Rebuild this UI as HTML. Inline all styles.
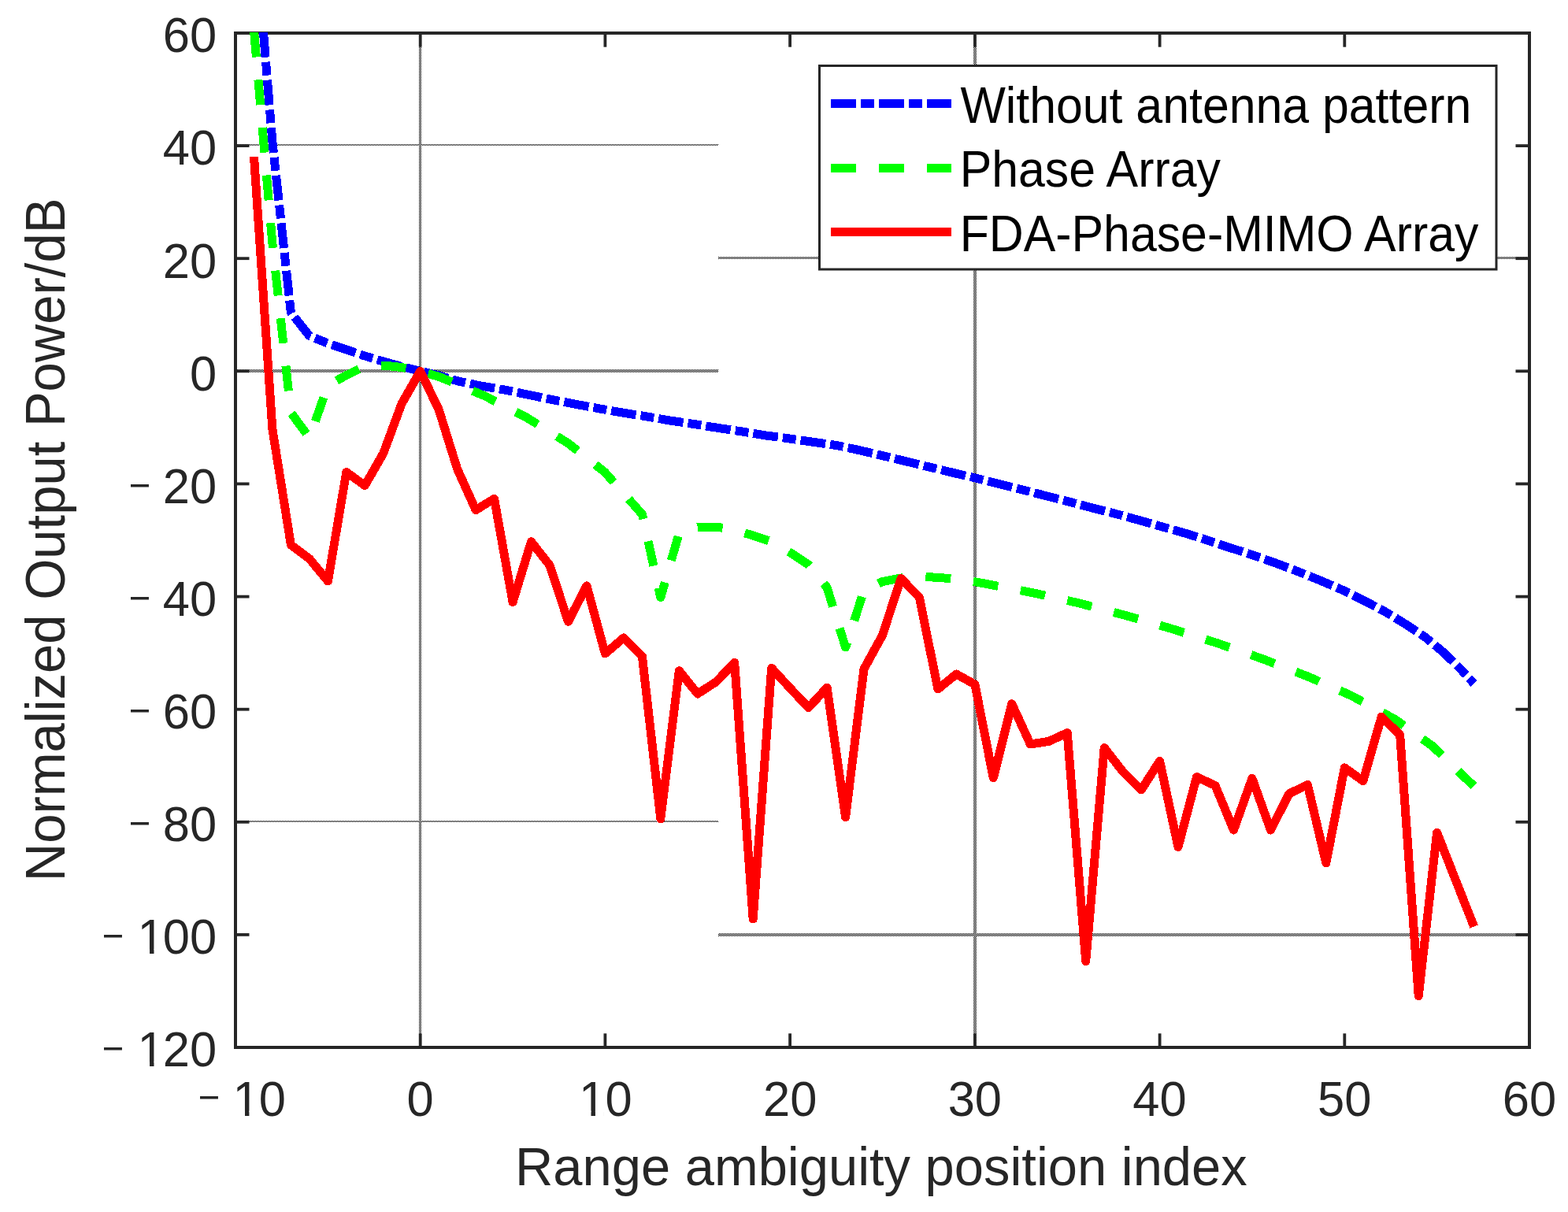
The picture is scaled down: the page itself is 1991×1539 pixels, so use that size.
<!DOCTYPE html>
<html><head><meta charset="utf-8"><title>Normalized Output Power vs Range ambiguity position index</title>
<style>
html,body{margin:0;padding:0;background:#fff;}
body{width:1991px;height:1539px;overflow:hidden;}
svg{display:block;}
text{font-family:"Liberation Sans",sans-serif;}
</style></head><body>
<svg width="1991" height="1539" viewBox="0 0 1991 1539">
<defs>
<pattern id="ck" x="0" y="0" width="2" height="2" patternUnits="userSpaceOnUse">
<rect x="0" y="0" width="1" height="1" fill="#000"/><rect x="1" y="1" width="1" height="1" fill="#000"/>
</pattern>
<clipPath id="one20" clipPathUnits="userSpaceOnUse"><rect x="-80" y="-90" width="400" height="84.21"/><rect x="17.47" y="-90" width="5.44" height="100"/><rect x="33.80" y="-90" width="300" height="100"/></clipPath><clipPath id="one10" clipPathUnits="userSpaceOnUse"><rect x="-80" y="-90" width="400" height="84.21"/><rect x="16.47" y="-90" width="5.44" height="100"/><rect x="32.80" y="-90" width="300" height="100"/></clipPath><clipPath id="one8" clipPathUnits="userSpaceOnUse"><rect x="-80" y="-90" width="400" height="84.21"/><rect x="16.27" y="-90" width="5.44" height="100"/><rect x="32.60" y="-90" width="300" height="100"/></clipPath>
<clipPath id="plot"><rect x="299" y="41" width="1643" height="1289"/></clipPath>
</defs>
<rect x="0" y="0" width="1991" height="1539" fill="#fff"/>

<g fill="url(#ck)">
<rect x="301" y="183" width="611" height="2"/>
<rect x="912" y="326" width="1028" height="3"/>
<rect x="301" y="469" width="611" height="4"/>
<rect x="301" y="1042" width="611" height="2"/>
<rect x="912" y="1185" width="1028" height="4"/>
<rect x="532" y="44" width="3" height="1284"/>
<rect x="1236" y="44" width="4" height="1284"/>
</g>
<rect x="299" y="42" width="1643" height="1288" fill="none" stroke="#262626" stroke-width="4"/>
<g clip-path="url(#plot)" fill="none" stroke-width="11" stroke-linejoin="round" stroke-linecap="butt" shape-rendering="crispEdges">
<polyline stroke="#0000ff" stroke-dasharray="31.92 5.985 16.96 5.985" stroke-dashoffset="36.1" points="322.5,-105.0 345.9,180.0 369.4,397.0 392.9,426.5 416.4,436.0 439.8,444.0 463.3,452.0 486.8,459.0 510.2,465.5 533.7,471.3 556.0,476.5 581.5,483.9 611.6,490.2 641.8,495.2 671.9,501.5 702.0,507.7 730.9,513.3 761.5,519.0 791.2,524.1 821.8,529.1 851.4,534.1 881.6,538.6 911.7,543.4 941.9,547.9 972.0,552.9 1002.1,556.9 1032.6,561.3 1062.7,565.6 1092.1,571.9 1121.7,578.9 1151.1,586.0 1180.7,593.2 1210.1,600.3 1239.7,607.3 1269.4,614.8 1298.8,622.1 1328.4,629.7 1357.8,637.2 1387.1,645.0 1416.8,652.5 1446.2,660.5 1475.3,668.8 1505.1,677.1 1533.8,686.2 1562.7,695.8 1591.8,705.2 1620.6,715.3 1648.7,725.9 1677.2,737.4 1705.0,749.4 1732.5,762.9 1759.2,777.0 1784.9,792.6 1810.4,809.7 1833.9,829.2 1855.2,850.3 1871.6,868.0"/>
<polyline stroke="#00ff00" stroke-dasharray="31.92 28.93" stroke-dashoffset="60.2" points="322.6,40.0 345.9,309.0 369.4,524.0 392.9,556.0 416.4,489.5 439.8,476.5 463.3,465.0 486.8,464.0 510.2,466.5 533.7,471.3 558.9,478.9 615.4,502.7 668.9,530.3 720.9,562.5 767.9,599.5 798.7,634.1 815.4,653.0 838.8,758.5 862.3,677.0 885.8,669.0 909.3,669.0 932.7,673.0 956.2,680.0 979.7,688.0 1003.1,701.5 1026.6,717.0 1050.1,746.0 1073.6,822.0 1097.0,750.0 1120.5,738.5 1144.0,734.0 1167.4,732.5 1190.9,733.2 1214.4,735.5 1237.9,738.7 1311.5,752.7 1370.6,766.0 1429.7,781.6 1488.7,798.7 1545.8,816.7 1603.5,836.8 1660.3,858.9 1715.2,883.0 1771.2,913.3 1819.2,947.6 1862.0,989.2 1871.6,998.0"/>
<polyline stroke="#ff0000" points="322.5,199.0 345.9,545.0 369.4,692.0 392.9,709.5 416.4,738.0 439.8,599.5 463.3,616.5 486.8,575.5 510.2,512.2 533.7,471.3 557.2,520.2 580.7,595.6 604.1,647.6 627.6,633.3 651.1,764.6 674.5,687.9 698.0,717.8 721.5,789.3 745.0,743.8 768.4,830.0 791.9,809.9 815.4,833.3 838.8,1039.7 862.3,851.8 885.8,881.0 909.3,865.8 932.7,841.4 956.2,1167.0 979.7,848.3 1003.1,873.7 1026.6,898.6 1050.1,873.2 1073.6,1037.7 1097.0,849.5 1120.5,806.6 1144.0,734.6 1167.4,758.5 1190.9,875.0 1214.4,856.0 1237.9,869.1 1261.3,987.8 1284.8,893.7 1308.3,945.0 1331.7,941.4 1355.2,930.5 1378.7,1220.5 1402.2,949.6 1425.6,979.6 1449.1,1003.0 1472.6,966.4 1496.0,1075.5 1519.5,986.6 1543.0,997.5 1566.5,1054.0 1589.9,988.3 1613.4,1054.0 1636.9,1007.9 1660.3,996.4 1683.8,1096.0 1707.3,974.9 1730.8,991.6 1754.2,910.2 1777.7,933.3 1801.2,1264.6 1824.6,1057.2 1848.1,1117.0 1871.6,1176.5"/>
</g>
<g fill="#262626"><rect x="297" y="40.1" width="19.5" height="3.8"/><rect x="1924.5" y="40.1" width="19.5" height="3.8"/><rect x="297" y="183.2" width="19.5" height="3.8"/><rect x="1924.5" y="183.2" width="19.5" height="3.8"/><rect x="297" y="326.3" width="19.5" height="3.8"/><rect x="1924.5" y="326.3" width="19.5" height="3.8"/><rect x="297" y="469.4" width="19.5" height="3.8"/><rect x="1924.5" y="469.4" width="19.5" height="3.8"/><rect x="297" y="612.5" width="19.5" height="3.8"/><rect x="1924.5" y="612.5" width="19.5" height="3.8"/><rect x="297" y="755.7" width="19.5" height="3.8"/><rect x="1924.5" y="755.7" width="19.5" height="3.8"/><rect x="297" y="898.8" width="19.5" height="3.8"/><rect x="1924.5" y="898.8" width="19.5" height="3.8"/><rect x="297" y="1041.9" width="19.5" height="3.8"/><rect x="1924.5" y="1041.9" width="19.5" height="3.8"/><rect x="297" y="1185.0" width="19.5" height="3.8"/><rect x="1924.5" y="1185.0" width="19.5" height="3.8"/><rect x="297" y="1328.1" width="19.5" height="3.8"/><rect x="1924.5" y="1328.1" width="19.5" height="3.8"/><rect x="297.1" y="40" width="3.8" height="19.7"/><rect x="297.1" y="1312.3" width="3.8" height="19.7"/><rect x="531.8" y="40" width="3.8" height="19.7"/><rect x="531.8" y="1312.3" width="3.8" height="19.7"/><rect x="766.5" y="40" width="3.8" height="19.7"/><rect x="766.5" y="1312.3" width="3.8" height="19.7"/><rect x="1001.2" y="40" width="3.8" height="19.7"/><rect x="1001.2" y="1312.3" width="3.8" height="19.7"/><rect x="1236.0" y="40" width="3.8" height="19.7"/><rect x="1236.0" y="1312.3" width="3.8" height="19.7"/><rect x="1470.7" y="40" width="3.8" height="19.7"/><rect x="1470.7" y="1312.3" width="3.8" height="19.7"/><rect x="1705.4" y="40" width="3.8" height="19.7"/><rect x="1705.4" y="1312.3" width="3.8" height="19.7"/><rect x="1940.1" y="40" width="3.8" height="19.7"/><rect x="1940.1" y="1312.3" width="3.8" height="19.7"/></g>
<g fill="#262626"><text transform="translate(206.79,66.30) scale(1,1.035)" font-size="61.5"><tspan x="0" y="0">60</tspan></text><text transform="translate(206.79,209.41) scale(1,1.035)" font-size="61.5"><tspan x="0" y="0">40</tspan></text><text transform="translate(206.79,352.52) scale(1,1.035)" font-size="61.5"><tspan x="0" y="0">20</tspan></text><text transform="translate(241.00,495.63) scale(1,1.035)" font-size="61.5"><tspan x="0" y="0">0</tspan></text><text transform="translate(206.79,638.74) scale(1,1.035)" font-size="61.5"><tspan x="-43.13" y="-5.61" font-size="47.34">&#8722;</tspan><tspan x="0" y="0">20</tspan></text><text transform="translate(206.79,781.86) scale(1,1.035)" font-size="61.5"><tspan x="-43.13" y="-5.61" font-size="47.34">&#8722;</tspan><tspan x="0" y="0">40</tspan></text><text transform="translate(206.79,924.97) scale(1,1.035)" font-size="61.5"><tspan x="-43.13" y="-5.61" font-size="47.34">&#8722;</tspan><tspan x="0" y="0">60</tspan></text><text transform="translate(206.79,1068.08) scale(1,1.035)" font-size="61.5"><tspan x="-43.13" y="-5.61" font-size="47.34">&#8722;</tspan><tspan x="0" y="0">80</tspan></text><text clip-path="url(#one20)" transform="translate(172.59,1211.19) scale(1,1.035)" font-size="61.5"><tspan x="-42.92" y="-5.61" font-size="47.34">&#8722;</tspan><tspan x="2.00" y="0">1</tspan><tspan x="34.20" y="0">00</tspan></text><text clip-path="url(#one20)" transform="translate(172.59,1354.30) scale(1,1.035)" font-size="61.5"><tspan x="-42.92" y="-5.61" font-size="47.34">&#8722;</tspan><tspan x="2.00" y="0">1</tspan><tspan x="34.20" y="0">20</tspan></text><text clip-path="url(#one10)" transform="translate(294.50,1416.50) scale(1,1.035)" font-size="61.5"><tspan x="-42.83" y="-6.00" font-size="47.34">&#8722;</tspan><tspan x="1.00" y="0">1</tspan><tspan x="34.20" y="0">0</tspan></text><text transform="translate(516.61,1416.50) scale(1,1.035)" font-size="61.5"><tspan x="0" y="0">0</tspan></text><text clip-path="url(#one8)" transform="translate(734.23,1416.50) scale(1,1.035)" font-size="61.5"><tspan x="0.80" y="0">1</tspan><tspan x="34.20" y="0">0</tspan></text><text transform="translate(968.94,1416.50) scale(1,1.035)" font-size="61.5"><tspan x="0" y="0">20</tspan></text><text transform="translate(1203.65,1416.50) scale(1,1.035)" font-size="61.5"><tspan x="0" y="0">30</tspan></text><text transform="translate(1438.37,1416.50) scale(1,1.035)" font-size="61.5"><tspan x="0" y="0">40</tspan></text><text transform="translate(1673.08,1416.50) scale(1,1.035)" font-size="61.5"><tspan x="0" y="0">50</tspan></text><text transform="translate(1907.80,1416.50) scale(1,1.035)" font-size="61.5"><tspan x="0" y="0">60</tspan></text></g>
<text fill="#262626" transform="translate(654,1504.6) scale(1,1.035)" font-size="66.9">Range ambiguity position index</text>
<text fill="#262626" transform="translate(82.1,1119.2) rotate(-90) scale(1,1.045)" font-size="67">Normalized Output Power/dB</text>
<rect x="1040.5" y="83.5" width="859.5" height="258.5" fill="#fff" stroke="#262626" stroke-width="3"/>
<g fill="none" stroke-width="11" shape-rendering="crispEdges">
<line x1="1055" y1="131.45" x2="1208.2" y2="131.45" stroke="#0000ff" stroke-dasharray="32 6 17 6"/>
<line x1="1055" y1="213" x2="1208.2" y2="213" stroke="#00ff00" stroke-dasharray="32 29"/>
<line x1="1054.8" y1="294.5" x2="1208.2" y2="294.5" stroke="#ff0000"/>
</g>
<g fill="#000">
<text transform="translate(1219.4,156.2) scale(1,1.07)" font-size="60.8">Without antenna pattern</text>
<text transform="translate(1218.7,237.1) scale(1,1.07)" font-size="60.8">Phase Array</text>
<text transform="translate(1218.7,319) scale(1,1.07)" font-size="60.8">FDA-Phase-MIMO Array</text>
</g>
</svg></body></html>
